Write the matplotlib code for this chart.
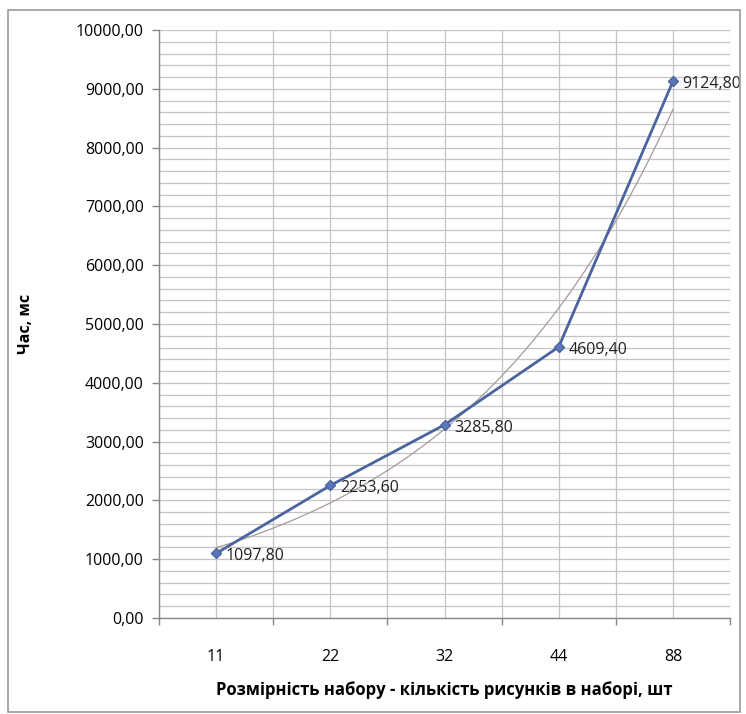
import numpy as np
import matplotlib.pyplot as plt
from matplotlib.patches import Rectangle

# дані
categories = ['11', '22', '32', '44', '88']
times = [1097.80, 2253.60, 3285.80, 4609.40, 9124.80]

plt.rcParams['font.family'] = ['Open Sans', 'DejaVu Sans']

fig = plt.figure(figsize=(7.46, 7.14), dpi=100)
ax = fig.add_axes([159 / 746, 1 - 618 / 714, 571 / 746, 588 / 714])

x = np.arange(len(categories))

# сітка
grid_c = '#c4c4c4'
for yy in np.arange(0, 10001, 200):
    ax.axhline(yy, color=grid_c, lw=0.9, zorder=0)
for xx in np.arange(-0.5, len(categories), 0.5):
    ax.axvline(xx, color=grid_c, lw=0.9, zorder=0)

# експоненційна лінія тренду (як в Excel)
k, b = np.polyfit(x + 1, np.log(times), 1)
xt = np.linspace(0, len(categories) - 1, 200)
ax.plot(xt, np.exp(b + k * (xt + 1)), color='#a89a9a', lw=0.9, zorder=2)

# основна лінія
ax.plot(x, times, color='#4a64a0', lw=2.0, marker='D', ms=5,
        markerfacecolor='#5a78b8', markeredgecolor='#4a64a0', zorder=3)

for xi, yi in zip(x, times):
    ax.annotate(f'{yi:.2f}'.replace('.', ','), (xi, yi), xytext=(7, -2),
                textcoords='offset points', ha='left', va='center',
                fontsize=11.5, color='#222222')

ax.set_xlim(-0.5, len(categories) - 0.5)
ax.set_ylim(0, 10000)

ax.set_yticks(np.arange(0, 10001, 1000))
ax.set_yticklabels([f'{v:.2f}'.replace('.', ',') for v in np.arange(0, 10001, 1000)])
ax.set_xticks(x)
ax.set_xticklabels(categories)
ax.set_xticks(np.arange(-0.5, len(categories), 1.0), minor=True)
ax.tick_params(axis='x', which='major', length=0, pad=22, labelsize=11.5)
ax.tick_params(axis='x', which='minor', length=5, width=1, color='#888888', direction='out')
ax.tick_params(axis='y', length=5, width=1, color='#888888', direction='out',
               labelsize=11.5, pad=6)

for s in ['top', 'right']:
    ax.spines[s].set_visible(False)
for s in ['left', 'bottom']:
    ax.spines[s].set_color('#888888')
    ax.spines[s].set_linewidth(1.0)

ax.set_ylabel('Час, мс', fontsize=11.5, fontweight='bold', labelpad=30)
ax.set_xlabel('Розмірність набору - кількість рисунків в наборі, шт',
              fontsize=12, fontweight='bold', labelpad=12)

# рамка діаграми
fig.patches.append(Rectangle((8 / 746, 2 / 714), 732 / 746, 702 / 714,
                             transform=fig.transFigure, fill=False,
                             edgecolor='#9a9a9a', lw=1.2))

fig.savefig('out.png', dpi=100)
